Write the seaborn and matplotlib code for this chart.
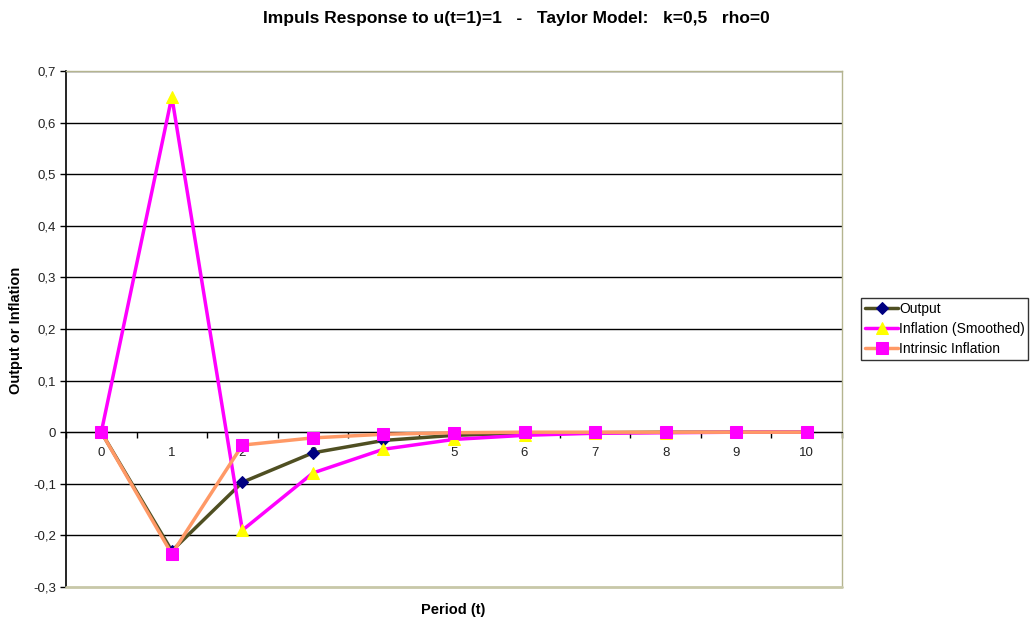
import numpy as np
import pandas as pd
import matplotlib
matplotlib.use('Agg')
import matplotlib.pyplot as plt
from matplotlib.ticker import FixedLocator, FuncFormatter
import seaborn as sns

periods = [0, 1, 2, 3, 4, 5, 6, 7, 8, 9, 10]
output = [0, -0.23, -0.097, -0.040, -0.016, -0.006, -0.002, -0.001, 0, 0, 0]
inflation_smoothed = [0, 0.65, -0.19, -0.079, -0.033, -0.014, -0.006, -0.002, -0.001, 0, 0]
intrinsic_inflation = [0, -0.236, -0.025, -0.011, -0.004, -0.001, 0, 0, 0, 0, 0]

sns.set_style('white')
plt.rcParams['font.family'] = ['Liberation Sans', 'DejaVu Sans']
plt.rcParams['text.color'] = 'black'
plt.rcParams['xtick.color'] = '#222222'
plt.rcParams['ytick.color'] = '#222222'

fig = plt.figure(figsize=(10.32, 6.21), dpi=100)
ax = fig.add_axes([66 / 1032, 1 - 587 / 621, (842 - 66) / 1032, (587 - 71) / 621])

# gridlines
for y in np.arange(-0.2, 0.71, 0.1):
    ax.axhline(y, color='black', lw=1.0, zorder=1)

sns.lineplot(x=periods, y=output, ax=ax, color='#4f4f22', lw=2.5,
             marker='D', markersize=6, markerfacecolor='#000080', markeredgecolor='#000080',
             label='Output', zorder=3)
sns.lineplot(x=periods, y=inflation_smoothed, ax=ax, color='#ff00ff', lw=2.5,
             marker='^', markersize=8, markerfacecolor='#ffff00', markeredgecolor='#ffff00',
             label='Inflation (Smoothed)', zorder=4)
sns.lineplot(x=periods, y=intrinsic_inflation, ax=ax, color='#ff9966', lw=2.5,
             marker='s', markersize=8, markerfacecolor='#ff00ff', markeredgecolor='#ff00ff',
             label='Intrinsic Inflation', zorder=5)

ax.set_xlim(-0.5, 10.5)
ax.set_ylim(-0.3, 0.7)

# y axis
ax.set_yticks(np.round(np.arange(-0.3, 0.71, 0.1), 1))
ax.yaxis.set_major_formatter(FuncFormatter(lambda v, p: ('%g' % round(v, 1)).replace('.', ',')))
ax.tick_params(axis='y', left=True, length=4, width=1, color='black', labelsize=9.5, pad=3)

# x axis crossing at zero
ax.spines['bottom'].set_position(('data', 0))
ax.spines['bottom'].set_color('black')
ax.set_xticks(periods)
ax.xaxis.set_minor_locator(FixedLocator(np.arange(-0.5, 10.6, 1)))
ax.tick_params(axis='x', which='major', length=0, labelsize=9.5, pad=11)
ax.tick_params(axis='x', which='minor', bottom=True, length=4, width=1, color='black', direction='out')

ax.spines['left'].set_color('black')
ax.spines['left'].set_linewidth(1.2)
for s in ['top', 'right']:
    ax.spines[s].set_color('#b5b590')
    ax.spines[s].set_linewidth(1.0)
ax.axhline(-0.3, color='#c8c8a8', lw=2, clip_on=False, zorder=6)

fig.text(453 / 1032, 1 - 610 / 621, 'Period (t)', ha='center', va='center',
         fontsize=10.5, fontweight='bold')
fig.text(16 / 1032, 1 - 330 / 621, 'Output or Inflation', ha='center', va='center',
         rotation=90, fontsize=10.5, fontweight='bold')
fig.text(516 / 1032, 1 - 18 / 621, 'Impuls Response to u(t=1)=1   -   Taylor Model:   k=0,5   rho=0',
         ha='center', va='center', fontsize=12.5, fontweight='bold')

leg = ax.legend(loc='center left', bbox_to_anchor=(1.025, 0.5), fontsize=10, frameon=True,
                fancybox=False, edgecolor='black', handlelength=2.4, handletextpad=0.05,
                borderpad=0.25, labelspacing=0.45, borderaxespad=0, markerscale=1.0)
leg.get_frame().set_linewidth(1.0)

fig.savefig('out.png', dpi=100)
